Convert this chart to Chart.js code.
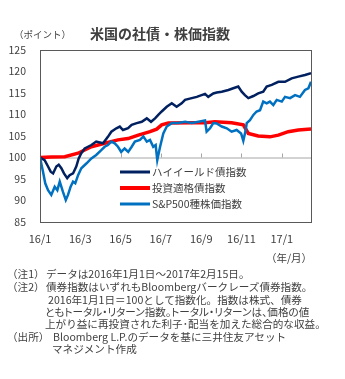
<!DOCTYPE html>
<html lang="ja">
<head>
<meta charset="utf-8">
<script src="https://cdn.jsdelivr.net/npm/chart.js@4.4.1/dist/chart.umd.min.js"></script>
<style>
  body { margin: 0; background: #fff; font-family: "Noto Sans CJK JP", sans-serif; color: #404040; }
  #page { position: relative; width: 345px; height: 379px; overflow: hidden; }
  #chartBox { position: absolute; left: 0; top: 0; width: 345px; height: 262px; }
  .txt { position: absolute; white-space: nowrap; }
  #title { left: 90px; top: 23px; font-size: 14px; font-weight: bold; }
  #unit { left: 14px; top: 27px; font-size: 9.5px; }
  #xunit { left: 266px; top: 250px; font-size: 10.5px; }
  .note { font-size: 10.6px; line-height: 12.4px; }
  .tight { font-feature-settings: "palt"; }
</style>
</head>
<body>
<div id="page">
  <div id="chartBox"><canvas id="bondChart" width="345" height="262"></canvas></div>
  <div class="txt" id="unit">（ポイント）</div>
  <div class="txt" id="title">米国の社債・株価指数</div>
  <div class="txt" id="xunit">（年/月）</div>
  <div class="txt note" style="left:7px; top:268px">（注1）</div>
  <div class="txt note" style="left:46px; top:268px">データは2016年1月1日～2017年2月15日。</div>
  <div class="txt note" style="left:7px; top:281px">（注2）</div>
  <div class="txt note" style="left:46px; top:281px">債券指数はいずれもBloombergバークレーズ債券指数。</div>
  <div class="txt note" style="left:48px; top:294px">2016年1月1日＝100として指数化。指数は株式、債券</div>
  <div class="txt note tight" style="left:45px; top:306px">ともトータル・リターン指数。トータル・リターンは、価格の値</div>
  <div class="txt note" style="left:45px; top:318px">上がり益に再投資された利子･配当を加えた総合的な収益。</div>
  <div class="txt note" style="left:7px; top:331px">（出所）</div>
  <div class="txt note" style="left:53px; top:331px">Bloomberg L.P.のデータを基に三井住友アセット</div>
  <div class="txt note" style="left:52px; top:343px">マネジメント作成</div>
</div>
<script>
// x = months since 2016/1/1
const tickMonths = [0, 2, 4, 6, 8, 10, 12];
const tickLabels = ["16/1", "16/3", "16/5", "16/7", "16/9", "16/11", "17/1"];
const seriesNames = ["ハイイールド債指数", "投資適格債指数", "S&P500種株価指数"];

const hyX = [0, 0.23, 0.40, 0.53, 0.65, 0.81, 0.93, 1.06, 1.19, 1.35, 1.47, 1.64, 1.80, 1.92, 2.05, 2.22, 2.38, 2.55, 2.79, 3.13, 3.37, 3.54, 3.79, 3.96, 4.12, 4.37, 4.55, 4.80, 5.05, 5.30, 5.51, 5.71, 5.87, 6.04, 6.29, 6.54, 6.78, 7.03, 7.20, 7.53, 7.78, 8.02, 8.19, 8.35, 8.60, 8.77, 9.02, 9.35, 9.59, 9.84, 10.01, 10.17, 10.34, 10.59, 10.83, 11.08, 11.25, 11.50, 11.83, 12.16, 12.49, 12.82, 13.15, 13.45];
const hyY = [100, 99.4, 97.9, 96.7, 96.3, 97.9, 98.3, 97.5, 96.3, 95.2, 95.9, 96.3, 97.9, 99.8, 101.0, 102.1, 102.5, 102.9, 103.7, 103.3, 104.8, 106.0, 106.8, 107.2, 106.4, 106.8, 107.6, 108.0, 108.3, 109.1, 108.3, 109.1, 109.9, 110.7, 111.8, 112.6, 111.8, 112.6, 113.4, 113.8, 114.1, 114.5, 114.8, 114.1, 114.9, 115.1, 115.3, 115.7, 116.1, 116.5, 115.3, 114.5, 113.8, 114.3, 114.9, 115.3, 116.5, 116.9, 117.6, 117.6, 118.4, 118.8, 119.2, 119.6];

const igX = [0, 0.56, 1.23, 1.89, 2.55, 3.21, 3.87, 4.37, 4.88, 5.46, 5.79, 6.04, 6.37, 7.53, 8.19, 8.68, 9.51, 10.09, 10.34, 10.83, 11.41, 11.83, 12.32, 12.82, 13.45];
const igY = [100, 100.1, 100.2, 101.0, 102.5, 103.3, 104.1, 104.4, 105.2, 106.0, 106.6, 107.6, 108.0, 108.1, 108.1, 108.3, 108.1, 107.6, 105.6, 105.0, 104.8, 105.2, 106.0, 106.4, 106.6];

const spX = [0, 0.15, 0.26, 0.40, 0.56, 0.73, 0.86, 0.98, 1.14, 1.28, 1.39, 1.52, 1.64, 1.75, 1.89, 2.05, 2.30, 2.55, 2.79, 3.04, 3.21, 3.37, 3.54, 3.71, 3.87, 4.03, 4.20, 4.38, 4.55, 4.71, 4.96, 5.13, 5.30, 5.46, 5.62, 5.74, 5.82, 5.96, 6.12, 6.29, 6.54, 6.86, 7.20, 7.53, 7.86, 8.19, 8.27, 8.44, 8.60, 8.77, 9.02, 9.27, 9.51, 9.76, 9.98, 10.09, 10.21, 10.26, 10.42, 10.59, 10.75, 10.92, 11.08, 11.25, 11.41, 11.58, 11.75, 12.00, 12.16, 12.41, 12.66, 12.90, 13.15, 13.32, 13.45];
const spY = [100, 96.7, 94.0, 92.4, 91.3, 93.2, 92.4, 94.4, 92.0, 90.1, 91.3, 93.2, 94.4, 94.0, 95.9, 97.5, 98.6, 99.8, 100.6, 101.7, 102.5, 102.9, 103.7, 103.3, 102.5, 101.3, 102.1, 101.3, 102.5, 103.7, 104.1, 104.9, 103.7, 104.1, 102.5, 102.9, 99.4, 102.5, 105.6, 107.2, 108.0, 108.0, 108.3, 108.0, 108.3, 108.6, 106.0, 106.8, 108.0, 107.9, 107.2, 106.8, 106.0, 106.4, 105.6, 103.9, 106.4, 108.0, 108.7, 109.9, 110.7, 111.0, 113.0, 112.6, 113.0, 112.2, 113.4, 113.0, 114.1, 113.8, 114.5, 114.1, 115.7, 116.1, 117.6];

const toPoints = (xs, ys) => xs.map((x, i) => ({ x: x, y: ys[i] }));

// frame, base line at 100 with upward ticks, and the inset legend
const framePlugin = {
  id: "frame",
  beforeDatasetsDraw(chart) {
    const { ctx, chartArea: a, scales } = chart;
    const y100 = scales.y.getPixelForValue(100);
    ctx.save();
    ctx.strokeStyle = "#a6a6a6";
    ctx.lineWidth = 1;
    ctx.beginPath();
    ctx.moveTo(a.left, y100 + 0.5);
    ctx.lineTo(a.right, y100 + 0.5);
    tickMonths.forEach(m => {
      const px = Math.round(scales.x.getPixelForValue(m)) + 0.5;
      ctx.moveTo(px, y100);
      ctx.lineTo(px, y100 - 4);
    });
    ctx.stroke();
    ctx.restore();
  },
  afterDatasetsDraw(chart) {
    const { ctx, chartArea: a } = chart;
    ctx.save();
    ctx.strokeStyle = "#595959";
    ctx.lineWidth = 1;
    ctx.strokeRect(Math.round(a.left) + 0.5, Math.round(a.top) + 0.5, Math.round(a.right - a.left), Math.round(a.bottom - a.top));

    // legend
    const lx = a.left + 80, ly = a.top + 122;
    ctx.font = "10.5px 'Noto Sans CJK JP'";
    ctx.textBaseline = "middle";
    ctx.fillStyle = "#404040";
    chart.data.datasets.forEach((ds, i) => {
      const y = ly + i * 16;
      ctx.strokeStyle = ds.borderColor;
      ctx.lineWidth = ds.borderWidth + 0.5;
      ctx.beginPath();
      ctx.moveTo(lx, y);
      ctx.lineTo(lx + 30, y);
      ctx.stroke();
      ctx.fillText(ds.label, lx + 32, y);
    });
    ctx.restore();
  }
};

new Chart(document.getElementById("bondChart"), {
  type: "line",
  data: {
    datasets: [
      { label: seriesNames[0], data: toPoints(hyX, hyY), borderColor: "#002060", borderWidth: 2.5, order: 1 },
      { label: seriesNames[1], data: toPoints(igX, igY), borderColor: "#ff0000", borderWidth: 3.5, order: 2 },
      { label: seriesNames[2], data: toPoints(spX, spY), borderColor: "#0070c0", borderWidth: 2.5, order: 0 }
    ]
  },
  options: {
    responsive: false,
    animation: false,
    events: [],
    layout: { padding: { left: 0, top: 50, right: 34, bottom: 0 } },
    elements: { point: { radius: 0 }, line: { tension: 0 } },
    plugins: { legend: { display: false }, tooltip: { enabled: false } },
    scales: {
      x: {
        type: "linear",
        min: 0,
        max: 13.45,
        grid: { display: false, drawTicks: false },
        border: { display: false },
        afterBuildTicks: s => { s.ticks = tickMonths.map(v => ({ value: v })); },
        afterFit: s => { s.height = 40; },
        ticks: {
          autoSkip: false,
          maxRotation: 0,
          padding: 10,
          color: "#404040",
          font: { family: "'Noto Sans CJK JP'", size: 11 },
          callback: v => tickLabels[tickMonths.indexOf(v)]
        }
      },
      y: {
        min: 85,
        max: 125,
        grid: { display: false, drawTicks: false },
        border: { display: false },
        afterFit: s => { s.width = 40; },
        ticks: {
          stepSize: 5,
          padding: 14,
          color: "#404040",
          font: { family: "'Noto Sans CJK JP'", size: 10.5 }
        }
      }
    }
  },
  plugins: [framePlugin]
});
</script>
</body>
</html>
